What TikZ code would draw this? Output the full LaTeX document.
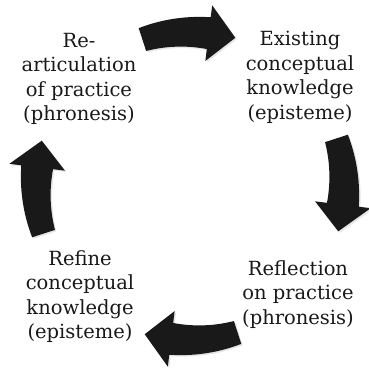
\documentclass[tikz,border=0pt]{standalone}
\usepackage{fontspec}
\setmainfont{DejaVu Serif}
\usetikzlibrary{shadows}

\tikzset{
  phase/.style={align=center,inner sep=0pt,anchor=north,text=black!90,
    font=\fontsize{19.5}{24.5}\selectfont},
  cyclearrow/.style={fill=black!90,
    drop shadow={opacity=0.2,shadow xshift=1.5pt,shadow yshift=-1.5pt}}
}

\begin{document}
\begin{tikzpicture}[x=1pt,y=1pt]
\useasboundingbox (0,0) rectangle (369,-367);

% the four phases of the cycle
\node[phase] (rearticulation) at (79,-33) {Re-\\articulation\\of practice\\(phronesis)};
\node[phase] (existing) at (300,-31) {Existing\\conceptual\\knowledge\\(episteme)};
\node[phase] (reflection) at (298,-260) {Reflection\\on practice\\(phronesis)};
\node[phase] (refine) at (80,-250) {Refine\\conceptual\\knowledge\\(episteme)};

% block arrows round the cycle, clockwise
\coordinate (hub) at (190,-186);
\foreach \a in {90,0,-90,180}{
  \fill[cyclearrow,shift={(hub)}]
    plot[domain=0:1,samples=15] ({\a+18-25*\x}:{166+4*\x})
    -- ({\a-7}:182) -- ({\a-17}:155) -- ({\a-7}:126)
    -- plot[domain=1:0,samples=15] ({\a+18-25*\x}:{142-4*\x})
    -- cycle;
}

\end{tikzpicture}
\end{document}
